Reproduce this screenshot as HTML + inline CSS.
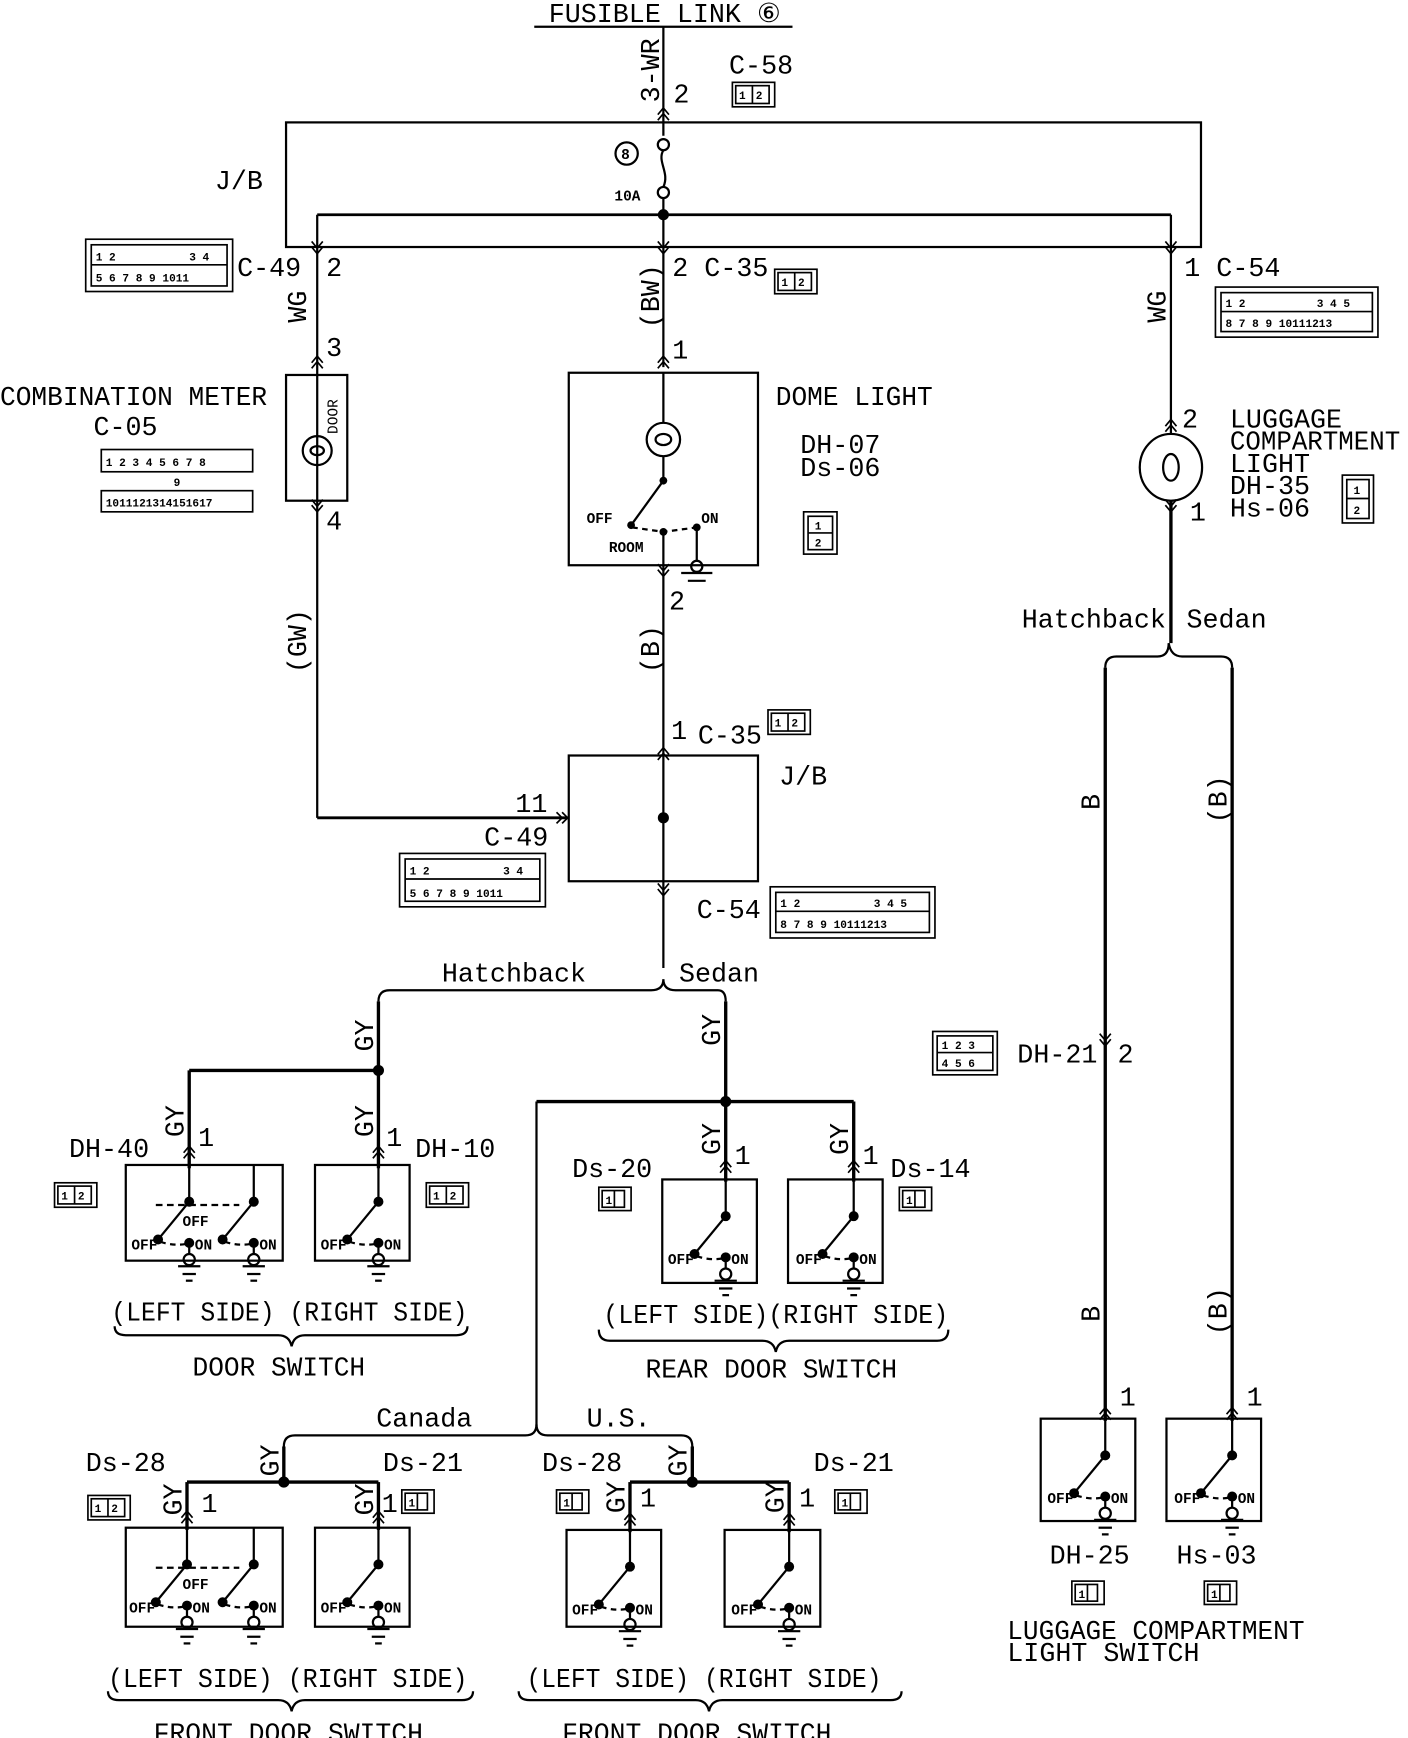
<!DOCTYPE html>
<html><head><meta charset="utf-8"><style>
html,body{margin:0;padding:0;background:#fff;width:1408px;height:1738px;overflow:hidden}
svg{display:block}
text{font-family:"Liberation Mono",monospace;fill:#000}
.t{font-size:24px}
.s{font-size:13px;font-weight:bold}
.c{font-size:10px;font-weight:bold}
</style></head><body>
<svg width="1408" height="1738" viewBox="0 0 1265 1562" preserveAspectRatio="none" xmlns="http://www.w3.org/2000/svg">
<defs>
<g id="sw0" stroke="#000" stroke-width="2" fill="none">
 <circle cx="0" cy="33" r="3.5" fill="#000"/>
 <line x1="0" y1="33" x2="-28" y2="67"/>
 <circle cx="-28" cy="67" r="3.5" fill="#000"/>
 <path d="M-26 69 Q-14 73 -3 71" stroke-dasharray="5,4"/>
 <circle cx="0" cy="70" r="3.5" fill="#000"/>
 <line x1="0" y1="70" x2="0" y2="80"/>
 <circle cx="0" cy="85" r="5"/>
 <line x1="-10" y1="91" x2="10" y2="91"/>
 <line x1="-6" y1="98" x2="6" y2="98"/>
 <line x1="-3" y1="104" x2="3" y2="104"/>
 <text x="5" y="76" class="s" stroke="none">ON</text>
</g>
<g id="sw">
 <use href="#sw0"/>
 <text x="-52" y="76" class="s">OFF</text>
</g>
<g id="ch" stroke="#000" stroke-width="1.5" fill="none">
 <polyline points="-5,6 0,0 5,6"/><polyline points="-5,11 0,5 5,11"/>
</g>
<g id="cd" stroke="#000" stroke-width="1.5" fill="none">
 <polyline points="-5,-6 0,0 5,-6"/><polyline points="-5,-11 0,-5 5,-11"/>
</g>
<g id="c12" stroke="#000" fill="none" stroke-width="1.5">
 <rect x="0" y="0" width="38" height="22"/><rect x="3" y="3" width="30" height="16"/><line x1="18" y1="3" x2="18" y2="19"/>
 <text x="6" y="15" class="c" stroke="none">1</text><text x="21" y="15" class="c" stroke="none">2</text>
</g>
<g id="c1" stroke="#000" fill="none" stroke-width="1.5">
 <rect x="0" y="0" width="29" height="21"/><rect x="3" y="3" width="20" height="15"/><line x1="14" y1="3" x2="14" y2="18"/>
 <text x="6" y="15" class="c" stroke="none">1</text>
</g>
</defs>
<g stroke="#000" stroke-width="2" fill="none">
 <line x1="480" y1="24" x2="712" y2="24"/>
 <line x1="596" y1="24" x2="596" y2="122"/>
 <rect x="257" y="110" width="822" height="112"/>
 <circle cx="596" cy="130" r="5"/>
 <path d="M596 135 C590 145 602 155 596 168"/>
 <circle cx="596" cy="173" r="5"/>
 <line x1="596" y1="178" x2="596" y2="330"/>
 <line x1="285" y1="193" x2="1052" y2="193" stroke-width="2.5"/>
 <circle cx="563" cy="138" r="10"/>
 <line x1="285" y1="193" x2="285" y2="735"/>
 <line x1="1052" y1="193" x2="1052" y2="390"/>
 <line x1="1052" y1="450" x2="1052" y2="578" stroke-width="3"/>
 <rect x="257" y="337" width="55" height="113"/>
 <circle cx="285" cy="405" r="13"/>
 <path d="M279 405 a6 4 0 1 0 12 0 a6 4 0 1 0 -12 0"/>
 <line x1="285" y1="735" x2="510" y2="735" stroke-width="2.5"/>
 <rect x="511" y="335" width="170" height="173"/>
 <circle cx="596" cy="395" r="15"/>
 <path d="M589 395 a7 5 0 1 0 14 0 a7 5 0 1 0 -14 0"/>
 <line x1="596" y1="335" x2="596" y2="380"/>
 <line x1="596" y1="410" x2="596" y2="432"/>
 <line x1="596" y1="432" x2="567" y2="472"/>
 <path d="M568 474 L596 478 L626 474" stroke-dasharray="5,4"/>
 <line x1="626" y1="474" x2="626" y2="505"/>
 <circle cx="626" cy="509" r="5"/>
 <line x1="612" y1="515" x2="640" y2="515"/>
 <line x1="618" y1="522" x2="634" y2="522"/>
 <line x1="596" y1="478" x2="596" y2="870"/>
 <rect x="511" y="679" width="170" height="113"/>
 <path d="M340 900 Q340 890 350 890 L585 890 Q596 890 596 880 Q596 890 607 890 L645 890 Q652 890 652 900"/>
 <line x1="340" y1="900" x2="340" y2="1050" stroke-width="3"/>
 <line x1="170" y1="962" x2="340" y2="962" stroke-width="3"/>
 <line x1="170" y1="962" x2="170" y2="1050" stroke-width="3"/>
 <line x1="652" y1="900" x2="652" y2="1062" stroke-width="3"/>
 <line x1="482" y1="990" x2="767" y2="990" stroke-width="3"/>
 <line x1="767" y1="990" x2="767" y2="1062" stroke-width="3"/>
 <line x1="482" y1="990" x2="482" y2="1282" stroke-width="2"/>
 <rect x="113" y="1047" width="141" height="86"/>
 <rect x="283" y="1047" width="85" height="86"/>
 <rect x="595" y="1060" width="85" height="93"/>
 <rect x="708" y="1060" width="85" height="93"/>
 <line x1="228" y1="1047" x2="228" y2="1080"/>
 <line x1="140" y1="1083" x2="215" y2="1083" stroke-dasharray="6,4"/>
 <path d="M103 1192 Q103 1200 113 1200 L250 1200 Q260 1200 262 1210 Q264 1200 274 1200 L410 1200 Q420 1200 420 1192"/>
 <path d="M538 1195 Q538 1205 548 1205 L685 1205 Q695 1205 697 1215 Q699 1205 709 1205 L842 1205 Q852 1205 852 1195"/>
 <path d="M255 1300 Q255 1290 265 1290 L472 1290 Q482 1290 482 1280 Q482 1290 492 1290 L612 1290 Q622 1290 622 1300"/>
 <line x1="255" y1="1300" x2="255" y2="1332" stroke-width="3"/>
 <line x1="168" y1="1332" x2="340" y2="1332" stroke-width="3"/>
 <line x1="168" y1="1332" x2="168" y2="1375" stroke-width="3"/>
 <line x1="340" y1="1332" x2="340" y2="1375" stroke-width="3"/>
 <line x1="622" y1="1300" x2="622" y2="1332" stroke-width="3"/>
 <line x1="566" y1="1332" x2="709" y2="1332" stroke-width="3"/>
 <line x1="566" y1="1332" x2="566" y2="1377" stroke-width="3"/>
 <line x1="709" y1="1332" x2="709" y2="1377" stroke-width="3"/>
 <rect x="113" y="1373" width="141" height="89"/>
 <rect x="283" y="1373" width="85" height="89"/>
 <rect x="509" y="1375" width="85" height="87"/>
 <rect x="651" y="1375" width="86" height="87"/>
 <line x1="228" y1="1373" x2="228" y2="1406"/>
 <line x1="140" y1="1409" x2="215" y2="1409" stroke-dasharray="6,4"/>
 <path d="M97 1520 Q97 1528 107 1528 L250 1528 Q260 1528 262 1538 Q264 1528 274 1528 L415 1528 Q425 1528 425 1520"/>
 <path d="M466 1520 Q466 1528 476 1528 L625 1528 Q635 1528 637 1538 Q639 1528 649 1528 L800 1528 Q810 1528 810 1520"/>
 <ellipse cx="1052" cy="420" rx="28" ry="30"/>
 <path d="M1045 420 a7 12 0 1 0 14 0 a7 12 0 1 0 -14 0"/>
 <path d="M993 600 Q993 590 1003 590 L1040 590 Q1050 590 1050 578 Q1052 590 1062 590 L1097 590 Q1107 590 1107 600"/>
 <line x1="993" y1="600" x2="993" y2="1277" stroke-width="3"/>
 <line x1="1107" y1="600" x2="1107" y2="1277" stroke-width="3"/>
 <rect x="935" y="1275" width="85" height="92"/>
 <rect x="1048" y="1275" width="85" height="92"/>
</g>
<g fill="#000">
 <circle cx="596" cy="193" r="5"/><circle cx="596" cy="735" r="5"/>
 <circle cx="340" cy="962" r="5"/><circle cx="652" cy="990" r="5"/>
 <circle cx="255" cy="1332" r="5"/><circle cx="622" cy="1332" r="5"/>
 <circle cx="596" cy="432" r="3.5"/><circle cx="567" cy="472" r="3.5"/><circle cx="596" cy="478" r="3.5"/><circle cx="626" cy="474" r="3.5"/>
</g>
<use href="#ch" x="596" y="97"/><use href="#cd" x="285" y="228"/><use href="#cd" x="596" y="228"/><use href="#cd" x="1052" y="228"/>
<use href="#ch" x="285" y="320"/><use href="#ch" x="596" y="320"/><use href="#cd" x="285" y="460"/><use href="#cd" x="596" y="518"/>
<use href="#ch" x="1052" y="377"/><use href="#cd" x="1052" y="460"/><use href="#ch" x="596" y="672"/><use href="#cd" x="596" y="805"/>
<use href="#cd" x="993" y="940"/><use href="#ch" x="993" y="1265"/><use href="#ch" x="1107" y="1265"/>
<use href="#ch" x="170" y="1030"/><use href="#ch" x="340" y="1030"/><use href="#ch" x="652" y="1043"/><use href="#ch" x="767" y="1043"/>
<use href="#ch" x="168" y="1358"/><use href="#ch" x="340" y="1358"/><use href="#ch" x="566" y="1360"/><use href="#ch" x="709" y="1360"/>
<g stroke="#000" stroke-width="1.5" fill="none"><polyline points="505,730 510,735 505,740"/><polyline points="500,730 505,735 500,740"/></g>
<use href="#sw" x="170" y="1047"/><use href="#sw0" x="228" y="1047"/><use href="#sw" x="340" y="1047"/>
<text x="164" y="1102" class="s">OFF</text>
<use href="#sw" x="652" y="1060"/><use href="#sw" x="767" y="1060"/>
<use href="#sw" x="168" y="1373"/><use href="#sw0" x="228" y="1373"/><use href="#sw" x="340" y="1373"/>
<text x="164" y="1428" class="s">OFF</text>
<use href="#sw" x="566" y="1375"/><use href="#sw" x="709" y="1375"/>
<use href="#sw" x="993" y="1275"/><use href="#sw" x="1107" y="1275"/>
<g stroke="#000" stroke-width="2"><line x1="170" y1="1047" x2="170" y2="1080"/><line x1="340" y1="1047" x2="340" y2="1080"/><line x1="652" y1="1060" x2="652" y2="1093"/><line x1="767" y1="1060" x2="767" y2="1093"/><line x1="168" y1="1373" x2="168" y2="1406"/><line x1="340" y1="1373" x2="340" y2="1406"/><line x1="566" y1="1375" x2="566" y2="1408"/><line x1="709" y1="1375" x2="709" y2="1408"/><line x1="993" y1="1275" x2="993" y2="1308"/><line x1="1107" y1="1275" x2="1107" y2="1308"/></g>
<use href="#c12" x="658" y="74"/><use href="#c12" x="696" y="242"/><use href="#c12" x="690" y="638"/>
<use href="#c12" x="49" y="1063"/><use href="#c12" x="383" y="1063"/><use href="#c12" x="79" y="1344"/>
<use href="#c1" x="538" y="1067"/><use href="#c1" x="808" y="1067"/><use href="#c1" x="361" y="1339"/><use href="#c1" x="500" y="1339"/><use href="#c1" x="750" y="1339"/><use href="#c1" x="963" y="1421"/><use href="#c1" x="1082" y="1421"/>
<g stroke="#000" stroke-width="1.5" fill="none">
 <rect x="77" y="215" width="132" height="47"/><rect x="82" y="220" width="122" height="37"/><line x1="82" y1="238" x2="204" y2="238"/>
 <rect x="359" y="767" width="131" height="48"/><rect x="364" y="772" width="121" height="38"/><line x1="364" y1="790" x2="485" y2="790"/>
 <rect x="1092" y="258" width="146" height="45"/><rect x="1097" y="263" width="136" height="35"/><line x1="1097" y1="280" x2="1233" y2="280"/>
 <rect x="692" y="797" width="148" height="46"/><rect x="697" y="802" width="138" height="36"/><line x1="697" y1="819" x2="835" y2="819"/>
 <rect x="91" y="404" width="136" height="20"/><rect x="91" y="441" width="136" height="19"/>
 <rect x="722" y="460" width="30" height="38"/><rect x="726" y="464" width="22" height="30"/><line x1="726" y1="479" x2="748" y2="479"/>
 <rect x="1206" y="427" width="28" height="43"/><rect x="1210" y="431" width="20" height="35"/><line x1="1210" y1="448" x2="1230" y2="448"/>
 <rect x="838" y="927" width="58" height="39"/><rect x="842" y="931" width="50" height="31"/><line x1="842" y1="946" x2="892" y2="946"/>
</g>
<g class="c">
 <text x="86" y="234">1 2</text><text x="170" y="234">3 4</text><text x="86" y="253">5 6 7 8 9 1011</text>
 <text x="368" y="786">1 2</text><text x="452" y="786">3 4</text><text x="368" y="806">5 6 7 8 9 1011</text>
 <text x="1101" y="276">1 2</text><text x="1183" y="276">3 4 5</text><text x="1101" y="294">8 7 8 9 10111213</text>
 <text x="701" y="815">1 2</text><text x="785" y="815">3 4 5</text><text x="701" y="834">8 7 8 9 10111213</text>
 <text x="95" y="419">1 2 3 4 5 6 7 8</text><text x="95" y="455">1011121314151617</text><text x="156" y="437">9</text>
 <text x="732" y="476">1</text><text x="732" y="491">2</text><text x="1216" y="444">1</text><text x="1216" y="462">2</text>
 <text x="846" y="943">1 2 3</text><text x="846" y="959">4 5 6</text>
</g>
<g class="t">
 <text x="493" y="20">FUSIBLE LINK ⑥</text>
 <text x="655" y="66">C-58</text><text x="605" y="92">2</text>
 <text x="193" y="170">J/B</text>
 <text x="213" y="248">C-49</text><text x="293" y="248">2</text>
 <text x="604" y="248">2 C-35</text>
 <text x="1064" y="248">1 C-54</text>
 <text x="293" y="320">3</text><text x="604" y="322">1</text>
 <text x="0" y="364" textLength="240" lengthAdjust="spacingAndGlyphs">COMBINATION METER</text><text x="84" y="391">C-05</text>
 <text x="293" y="476">4</text>
 <text x="697" y="364" textLength="141" lengthAdjust="spacingAndGlyphs">DOME LIGHT</text>
 <text x="719" y="407">DH-07</text><text x="719" y="428">Ds-06</text>
 <text x="1062" y="384">2</text><text x="1069" y="468">1</text>
 <text x="1105" y="384">LUGGAGE</text><text x="1105" y="404" textLength="153" lengthAdjust="spacingAndGlyphs">COMPARTMENT</text><text x="1105" y="424">LIGHT</text><text x="1105" y="444">DH-35</text><text x="1105" y="464">Hs-06</text>
 <text x="601" y="548">2</text>
 <text x="918" y="564">Hatchback</text><text x="1066" y="564">Sedan</text>
 <text x="603" y="664">1</text><text x="627" y="668">C-35</text>
 <text x="700" y="705">J/B</text>
 <text x="463" y="730">11</text><text x="435" y="760">C-49</text>
 <text x="626" y="825">C-54</text>
 <text x="397" y="882">Hatchback</text><text x="610" y="882">Sedan</text>
 <text x="914" y="955">DH-21</text><text x="1004" y="955">2</text>
 <text x="178" y="1030">1</text><text x="347" y="1030">1</text><text x="660" y="1046">1</text><text x="775" y="1046">1</text>
 <text x="62" y="1040">DH-40</text><text x="373" y="1040">DH-10</text>
 <text x="514" y="1058">Ds-20</text><text x="800" y="1058">Ds-14</text>
 <text x="100" y="1187" textLength="320" lengthAdjust="spacingAndGlyphs">(LEFT SIDE) (RIGHT SIDE)</text><text x="173" y="1236" textLength="155" lengthAdjust="spacingAndGlyphs">DOOR SWITCH</text>
 <text x="542" y="1189" textLength="310" lengthAdjust="spacingAndGlyphs">(LEFT SIDE)(RIGHT SIDE)</text><text x="580" y="1238" textLength="226" lengthAdjust="spacingAndGlyphs">REAR DOOR SWITCH</text>
 <text x="1006" y="1263">1</text><text x="1120" y="1263">1</text>
 <text x="338" y="1282">Canada</text><text x="527" y="1282">U.S.</text>
 <text x="77" y="1322">Ds-28</text><text x="344" y="1322">Ds-21</text><text x="487" y="1322">Ds-28</text><text x="731" y="1322">Ds-21</text>
 <text x="181" y="1359">1</text><text x="343" y="1359">1</text><text x="575" y="1354">1</text><text x="718" y="1354">1</text>
 <text x="943" y="1405">DH-25</text><text x="1057" y="1405">Hs-03</text>
 <text x="905" y="1473" textLength="267" lengthAdjust="spacingAndGlyphs">LUGGAGE COMPARTMENT</text><text x="905" y="1493">LIGHT SWITCH</text>
 <text x="97" y="1516" textLength="323" lengthAdjust="spacingAndGlyphs">(LEFT SIDE) (RIGHT SIDE)</text><text x="138" y="1565" textLength="242" lengthAdjust="spacingAndGlyphs">FRONT DOOR SWITCH</text>
 <text x="473" y="1516" textLength="319" lengthAdjust="spacingAndGlyphs">(LEFT SIDE) (RIGHT SIDE)</text><text x="505" y="1565" textLength="242" lengthAdjust="spacingAndGlyphs">FRONT DOOR SWITCH</text>
</g>
<g class="s">
 <text x="558" y="143">8</text><text x="552" y="180">10A</text>
 <text x="527" y="470">OFF</text><text x="630" y="470">ON</text><text x="547" y="496">ROOM</text>
</g>
<g class="t" font-size="18">
 <text transform="translate(592,92) rotate(-90)">3-WR</text>
 <text transform="translate(275,290) rotate(-90)">WG</text>
 <text transform="translate(592,295) rotate(-90)">(BW)</text>
 <text transform="translate(1047,290) rotate(-90)">WG</text>
 <text transform="translate(303,390) rotate(-90)" font-size="13">DOOR</text>
 <text transform="translate(275,605) rotate(-90)">(GW)</text>
 <text transform="translate(592,605) rotate(-90)">(B)</text>
 <text transform="translate(988,728) rotate(-90)">B</text>
 <text transform="translate(1102,740) rotate(-90)">(B)</text>
 <text transform="translate(988,1188) rotate(-90)">B</text>
 <text transform="translate(1102,1200) rotate(-90)">(B)</text>
 <text transform="translate(335,945) rotate(-90)">GY</text>
 <text transform="translate(647,940) rotate(-90)">GY</text>
 <text transform="translate(165,1022) rotate(-90)">GY</text>
 <text transform="translate(335,1022) rotate(-90)">GY</text>
 <text transform="translate(647,1038) rotate(-90)">GY</text>
 <text transform="translate(762,1038) rotate(-90)">GY</text>
 <text transform="translate(250,1327) rotate(-90)">GY</text>
 <text transform="translate(617,1327) rotate(-90)">GY</text>
 <text transform="translate(163,1362) rotate(-90)">GY</text>
 <text transform="translate(335,1362) rotate(-90)">GY</text>
 <text transform="translate(561,1360) rotate(-90)">GY</text>
 <text transform="translate(704,1360) rotate(-90)">GY</text>
</g>
</svg>
</body></html>
